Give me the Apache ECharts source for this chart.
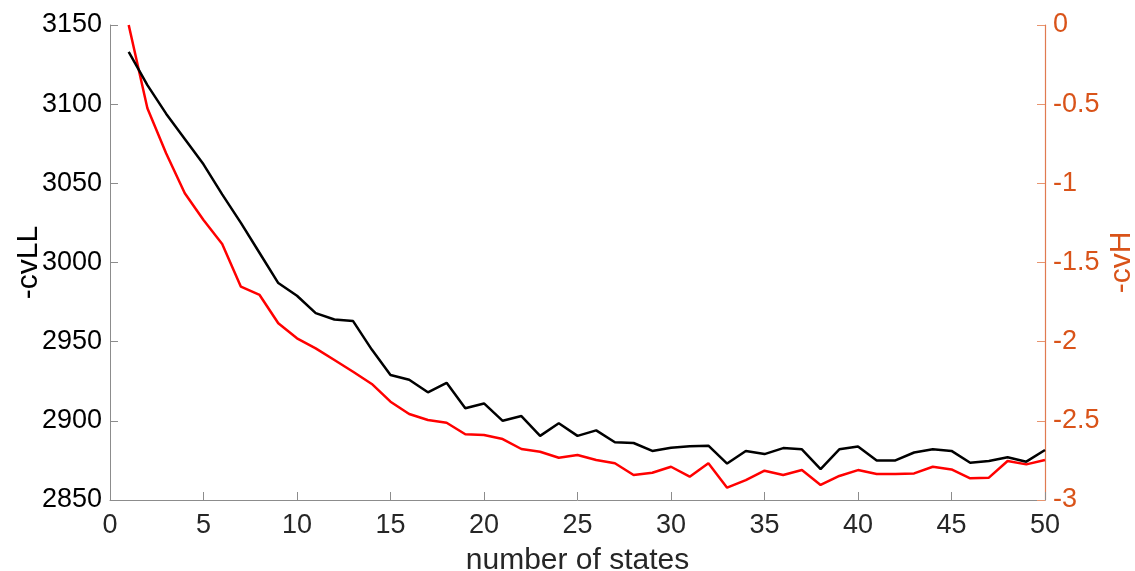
<!DOCTYPE html>
<html>
<head>
<meta charset="utf-8">
<script src="https://cdn.jsdelivr.net/npm/echarts@6/dist/echarts.min.js"></script>
<style>html,body{margin:0;padding:0;background:#fff}#c{width:1135px;height:571px}</style>
</head>
<body>
<div id="c"></div>
<script>
const states = [1,2,3,4,5,6,7,8,9,10,11,12,13,14,15,16,17,18,19,20,21,22,23,24,25,26,27,28,29,30,31,32,33,34,35,36,37,38,39,40,41,42,43,44,45,46,47,48,49,50];
const cvLL = [3133,3112,3094,3078,3062,3043,3025,3006,2987,2979,2968,2964,2963,2945,2929,2926,2918,2924,2908,2911,2900,2903,2890.5,2898.5,2890.5,2894,2886.5,2886,2881,2883,2884,2884.3,2873,2881,2879,2882.8,2882,2869.5,2882,2883.8,2875,2875,2880,2882,2881,2873.5,2874.6,2877,2874.2,2881.6];
const cvH = [0,-0.526,-0.81,-1.063,-1.232,-1.383,-1.653,-1.705,-1.884,-1.979,-2.042,-2.116,-2.19,-2.267,-2.379,-2.457,-2.495,-2.512,-2.585,-2.589,-2.615,-2.678,-2.695,-2.733,-2.716,-2.747,-2.768,-2.842,-2.828,-2.79,-2.853,-2.768,-2.922,-2.874,-2.815,-2.842,-2.811,-2.905,-2.848,-2.811,-2.836,-2.836,-2.832,-2.79,-2.807,-2.863,-2.859,-2.754,-2.775,-2.747];
const xLabel = 'number of states';
const leftLabel = '-cvLL';
const rightLabel = '-cvH';

const font = 'Liberation Sans, Arial, sans-serif';
const dark = '#262626';
const orange = '#D95319';
const plain = v => String(v);
const chart = echarts.init(document.getElementById('c'));
chart.setOption({
  animation: false,
  backgroundColor: '#fff',
  grid: {left: 110, right: 90, top: 25, bottom: 71, containLabel: false, outerBoundsMode: 'none'},
  xAxis: {
    type: 'value', min: 0, max: 50, interval: 5,
    name: xLabel, nameLocation: 'middle', nameGap: 46, nameMoveOverlap: false,
    nameTextStyle: {fontFamily: font, fontSize: 30, color: dark},
    axisLine: {show: true, onZero: false, lineStyle: {color: '#8c8c8c', width: 1}},
    axisTick: {show: true, inside: true, length: 8, lineStyle: {color: '#8c8c8c'}},
    axisLabel: {fontFamily: font, fontSize: 27, color: dark, margin: 12, formatter: plain},
    splitLine: {show: false}
  },
  yAxis: [{
    type: 'value', min: 2850, max: 3150, interval: 50, position: 'left',
    name: leftLabel, nameLocation: 'middle', nameGap: 66, nameRotate: 90, nameMoveOverlap: false,
    nameTextStyle: {fontFamily: font, fontSize: 30, color: '#000'},
    axisLine: {show: true, onZero: false, lineStyle: {color: '#8c8c8c', width: 1}},
    axisTick: {show: true, inside: true, length: 8, lineStyle: {color: '#8c8c8c'}},
    axisLabel: {fontFamily: font, fontSize: 27, color: '#000', margin: 8, formatter: plain},
    splitLine: {show: false}
  }, {
    type: 'value', min: -3, max: 0, interval: 0.5, position: 'right',
    name: rightLabel, nameLocation: 'middle', nameGap: 62, nameRotate: 90, nameMoveOverlap: false,
    nameTextStyle: {fontFamily: font, fontSize: 30, color: orange},
    axisLine: {show: true, onZero: false, lineStyle: {color: '#E07A50', width: 1.2}},
    axisTick: {show: true, inside: true, length: 8, lineStyle: {color: '#E8946E'}},
    axisLabel: {fontFamily: font, fontSize: 27, color: orange, margin: 8, formatter: plain},
    splitLine: {show: false}
  }],
  series: [{
    type: 'line', yAxisIndex: 0, data: states.map((s,i)=>[s, cvLL[i]]),
    showSymbol: false, lineStyle: {color: '#000', width: 2.5}, itemStyle: {color: '#000'}, z: 3
  }, {
    type: 'line', yAxisIndex: 1, data: states.map((s,i)=>[s, cvH[i]]),
    showSymbol: false, lineStyle: {color: '#ff0000', width: 2.5}, itemStyle: {color: '#ff0000'}, z: 2
  }]
});
</script>
</body>
</html>
